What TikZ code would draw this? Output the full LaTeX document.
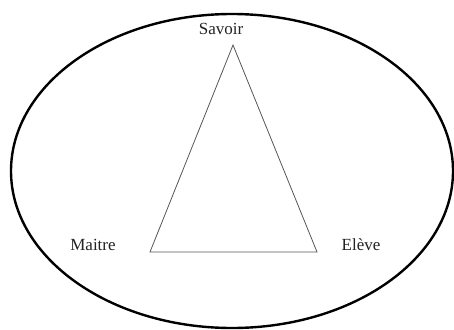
\documentclass[tikz,border=0pt]{standalone}
\usepackage{fontspec}
\setmainfont{Liberation Serif}
\usepackage{xcolor}
\usepackage{tikz}
\usetikzlibrary{positioning,shapes.geometric}
\definecolor{linegray}{HTML}{555555}
\definecolor{textgray}{HTML}{222222}
\tikzset{
  frame/.style={draw=black, ellipse, line width=2.4pt, inner sep=0pt},
  side/.style={draw=linegray, line width=0.8pt},
  pole/.style={text=textgray, inner sep=0pt, font=\fontsize{17}{20}\selectfont}
}

\begin{document}
\begin{tikzpicture}[x=1pt,y=-1pt]
  \useasboundingbox (0,0) rectangle (454,329);
  \node[frame, minimum width=442pt, minimum height=314pt] (cadre) at (232,171) {};

  \coordinate (s) at (233,45);
  \coordinate (m) at (150,252);
  \coordinate (e) at (317,252);
  \draw[side] (s) -- (m) -- (e) -- cycle;

  \node[pole] (savoir) at (221,29) {Savoir};
  \node[pole] (maitre) at (93,245) {Maitre};
  \node[pole] (eleve) at (361,245) {Elève};
\end{tikzpicture}
\end{document}
